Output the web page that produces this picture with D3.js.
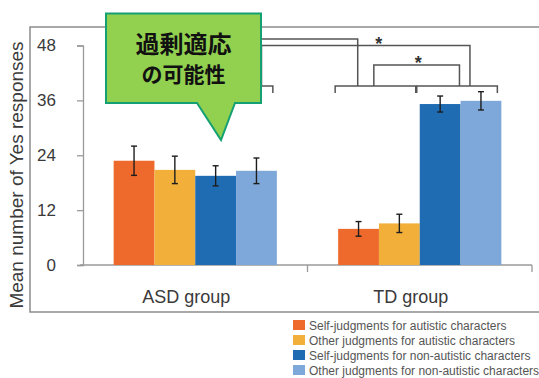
<!DOCTYPE html>
<html>
<head>
<meta charset="utf-8">
<script src="https://cdn.jsdelivr.net/npm/d3@7"></script>
<style>
  html, body { margin: 0; padding: 0; background: #fff; }
  svg { display: block; font-family: "Liberation Sans", Arial, sans-serif; }
</style>
</head>
<body>
<svg id="chart" width="539" height="378"></svg>
<script>
// Groups on the x axis
const categories = ["ASD group", "TD group"];
// Judgment conditions (one bar per condition in each group)
const seriesNames = [
  "Self-judgments for autistic characters",
  "Other judgments for autistic characters",
  "Self-judgments for non-autistic characters",
  "Other judgments for non-autistic characters"
];
const seriesColors = ["#EE6A2C", "#F2B03A", "#1F6CB3", "#7EA8D9"];
// Mean number of Yes responses per group, in series order
const asdMeans = [22.8, 20.8, 19.5, 20.6];
const tdMeans = [7.9, 9.1, 35.2, 35.9];
// Error bar half-lengths
const asdErrors = [3.2, 3.0, 2.2, 2.8];
const tdErrors = [1.6, 2.0, 1.75, 2.0];
const yTicks = [0, 12, 24, 36, 48];
const yLabel = "Mean number of Yes responses";
const calloutLines = ["過剰適応", "の可能性"];

const means = [asdMeans, tdMeans];
const errors = [asdErrors, tdErrors];

const svg = d3.select("#chart");
const ink = "#555";

// Outer frame of the figure
svg.append("rect")
  .attr("x", 30).attr("y", 27).attr("width", 540).attr("height", 285)
  .attr("fill", "none").attr("stroke", "#8c8c8c").attr("stroke-width", 1.5);

const plot = { left: 83, right: 532, top: 45.5, bottom: 265 };

const x = d3.scaleBand().domain(categories).range([plot.left, plot.right]).padding(0);
const y = d3.scaleLinear().domain([0, 48]).range([plot.bottom, plot.top]);
const groupWidth = x.bandwidth() * 0.727;
const xSub = d3.scaleBand().domain(d3.range(seriesNames.length)).range([0, groupWidth]).padding(0);
const barX = (ci, si) => x(categories[ci]) + (x.bandwidth() - groupWidth) / 2 + xSub(si);

// Y axis
const yAxis = svg.append("g")
  .attr("transform", `translate(${plot.left},0)`)
  .call(d3.axisLeft(y).tickValues(yTicks).tickSize(6).tickPadding(21));
yAxis.select(".domain").attr("stroke", "#9a9a9a").attr("stroke-width", 1.3);
yAxis.selectAll(".tick line").attr("stroke", "#9a9a9a").attr("stroke-width", 1.3);
yAxis.selectAll(".tick text")
  .attr("font-size", 17).attr("fill", "#3a3a3a")
  .attr("font-family", "Liberation Sans, Arial, sans-serif");

svg.append("text")
  .attr("transform", "translate(23,175) rotate(-90)")
  .attr("text-anchor", "middle")
  .attr("font-size", 19).attr("fill", "#3a3a3a")
  .text(yLabel);

// X axis baseline with separators at band edges
svg.append("line")
  .attr("x1", plot.left - 3).attr("x2", plot.right)
  .attr("y1", y(0)).attr("y2", y(0))
  .attr("stroke", "#9a9a9a").attr("stroke-width", 1.3);
svg.selectAll(".xsep").data(categories).enter().append("line")
  .attr("class", "xsep")
  .attr("x1", d => x(d) + x.bandwidth()).attr("x2", d => x(d) + x.bandwidth())
  .attr("y1", y(0)).attr("y2", y(0) + 7)
  .attr("stroke", "#9a9a9a").attr("stroke-width", 1.3);

svg.selectAll(".xlab").data(categories).enter().append("text")
  .attr("class", "xlab")
  .attr("x", d => x(d) + x.bandwidth() / 2 - 9)
  .attr("y", 303)
  .attr("text-anchor", "middle")
  .attr("font-size", 18).attr("fill", "#3a3a3a")
  .text(d => d);

// Bars
const bars = [];
means.forEach((vals, ci) => vals.forEach((v, si) => bars.push({ ci, si, v, e: errors[ci][si] })));

svg.selectAll(".bar").data(bars).enter().append("rect")
  .attr("class", "bar")
  .attr("x", d => barX(d.ci, d.si))
  .attr("width", xSub.bandwidth())
  .attr("y", d => y(d.v))
  .attr("height", d => y(0) - y(d.v))
  .attr("fill", d => seriesColors[d.si]);

// Error bars
const eb = svg.selectAll(".err").data(bars).enter().append("g").attr("class", "err")
  .attr("stroke", "#1d1d1d").attr("stroke-width", 1.4);
const cx = d => barX(d.ci, d.si) + xSub.bandwidth() / 2;
eb.append("line").attr("x1", cx).attr("x2", cx)
  .attr("y1", d => y(d.v + d.e)).attr("y2", d => y(d.v - d.e));
eb.append("line").attr("x1", d => cx(d) - 3).attr("x2", d => cx(d) + 3)
  .attr("y1", d => y(d.v + d.e)).attr("y2", d => y(d.v + d.e));
eb.append("line").attr("x1", d => cx(d) - 3).attr("x2", d => cx(d) + 3)
  .attr("y1", d => y(d.v - d.e)).attr("y2", d => y(d.v - d.e));

// Comparison brackets
const bracketY = 86, bracketDrop = 7;
const span = (ci, s0, s1) => [barX(ci, s0) - 3, barX(ci, s1) + xSub.bandwidth() - 4];
const asdSpan = span(0, 0, 3);
const tdAutSpan = span(1, 0, 1);
const tdNonSpan = span(1, 2, 3);
const brk = svg.append("g").attr("fill", "none").attr("stroke", ink).attr("stroke-width", 1.5);
[asdSpan, tdAutSpan, tdNonSpan].forEach(([a, b]) => {
  brk.append("path").attr("d", `M${a},${bracketY + bracketDrop}V${bracketY}H${b}V${bracketY + bracketDrop}`);
});
const at = (s, f) => s[0] + (s[1] - s[0]) * f;
const link = (xa, xb, top) =>
  brk.append("path").attr("d", `M${xa},${bracketY}V${top}H${xb}V${bracketY}`);
link(at(asdSpan, 0.5), at(tdAutSpan, 0.28), 39);
link(at(asdSpan, 0.93), at(tdNonSpan, 0.66), 45.5);
link(at(tdAutSpan, 0.48), at(tdNonSpan, 0.53), 65);

const stars = [[at(tdAutSpan, 0.54), 39], [at(tdAutSpan, 1.03), 58]];
svg.selectAll(".star").data(stars).enter().append("text")
  .attr("class", "star")
  .attr("x", d => d[0]).attr("y", d => d[1] + 11)
  .attr("text-anchor", "middle")
  .attr("font-size", 18).attr("font-weight", "bold").attr("fill", "#333")
  .text("*");

// Speech-bubble callout
const box = { l: 106, r: 261, t: 13.5, b: 103 };
const tail = { l: 197, r: 235, tipX: 221, tipY: 140 };
svg.append("path")
  .attr("d", `M${box.l},${box.t}H${box.r}V${box.b}H${tail.r}L${tail.tipX},${tail.tipY}L${tail.l},${box.b}H${box.l}Z`)
  .attr("fill", "#92D050").attr("stroke", "#14a073").attr("stroke-width", 2);
svg.selectAll(".callout").data(calloutLines).enter().append("text")
  .attr("class", "callout")
  .attr("x", (box.l + box.r) / 2)
  .attr("y", (d, i) => i === 0 ? 53 : 82)
  .attr("text-anchor", "middle")
  .attr("font-family", "Noto Sans CJK JP, sans-serif")
  .attr("font-weight", "bold")
  .attr("font-size", (d, i) => i === 0 ? 24 : 21)
  .attr("fill", "#111")
  .text(d => d);

// Legend
const legend = svg.append("g").attr("transform", "translate(293,320)");
const row = legend.selectAll("g").data(seriesNames).enter().append("g")
  .attr("transform", (d, i) => `translate(0,${i * 15})`);
row.append("rect").attr("width", 12).attr("height", 10).attr("fill", (d, i) => seriesColors[i]);
row.append("text").attr("x", 16).attr("y", 9.5)
  .attr("font-size", 12).attr("fill", "#555").text(d => d);
</script>
</body>
</html>
